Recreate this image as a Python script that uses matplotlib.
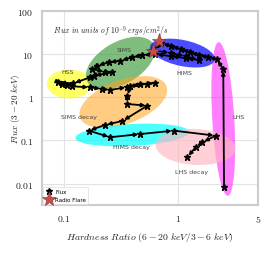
import matplotlib
matplotlib.use('Agg')
import matplotlib.pyplot as plt
from matplotlib.patches import Ellipse
from matplotlib.transforms import ScaledTranslation
from matplotlib.ticker import FixedLocator, NullLocator, FixedFormatter
from matplotlib.lines import Line2D

plt.rcParams['mathtext.fontset'] = 'cm'

# ---------------- data ----------------
hardness = [2.52, 2.48, 2.17, 1.81, 1.51, 1.26, 1.05, 0.856, 0.713,
            0.594, 0.856, 1.16, 1.51, 1.16, 0.856, 0.631, 0.485,
            0.394, 0.311, 0.245, 0.194, 0.175, 0.229, 0.263, 0.181, 0.169,
            0.12, 0.089, 0.0955, 0.106, 0.117,
            0.169, 0.215, 0.254, 0.358, 0.466, 0.537, 0.631, 0.381,
            0.358, 0.358, 0.537, 0.324, 0.229, 0.164,
            0.254, 0.466, 0.915, 2.13, 1.63, 1.42, 1.20]
flux = [0.0085, 4.5, 7.7, 8.6, 9.5, 11.2, 13.1, 15.4, 18.1,
        12.4, 10.6, 9.0, 7.3, 8.1, 9.0, 10.0, 9.5,
        8.43, 7.03, 6.46, 5.39, 4.52, 3.91, 3.79, 3.16, 2.90,
        2.1, 2.22, 2.03, 1.93, 1.80,
        1.70, 1.56, 1.48, 1.73, 2.0, 2.06, 2.14, 1.86,
        1.07, 0.70, 0.64, 0.283, 0.229, 0.169,
        0.119, 0.141, 0.169, 0.129, 0.0908, 0.0696, 0.0409]

flare_hardness = [0.675, 0.598]
flare_flux = [20.4, 12.0]

states = ['HSS', 'SIMS', 'HIMS', 'LHS', 'SIMS decay', 'HIMS decay', 'LHS decay']
state_label_x = [0.108, 0.337, 1.136, 3.39, 0.1355, 0.388, 1.296]
state_label_y = [4.06, 13.1, 3.85, 0.369, 0.369, 0.0734, 0.019]

x_ticks = [0.1, 1, 5]
x_ticklabels = ['0.1', '1', '5']
y_ticks = [0.01, 0.1, 1, 10, 100]
y_ticklabels = ['0.01', '0.1', '1', '10', '100']

# ellipse regions: centre (data), width/height (px), angle (deg), colour, alpha
ell_cx = [0.111, 0.311, 1.09, 2.48, 0.330, 0.396, 1.42]
ell_cy = [2.03, 6.22, 10.6, 0.315, 0.778, 0.134, 0.0707]
ell_w = [45, 76, 66, 154, 92, 114, 80]
ell_h = [29, 42, 26, 22, 44, 22, 36]
ell_ang = [0, 30, -12, 93.4, 20, 3, -3]
ell_col = ['#ffff00', '#3a9a3a', '#0000ff', '#ff00ff', '#ffa31a', '#00ffff', '#ffb6c1']
ell_alpha = [0.6, 0.65, 0.7, 0.5, 0.55, 0.7, 0.65]

# ---------------- figure ----------------
fig = plt.figure(figsize=(2.69, 2.55), dpi=100)
ax = fig.add_axes([42/269, 1-206/255, 216/269, 194/255])
ax.set_xscale('log')
ax.set_yscale('log')
ax.set_xlim(0.064, 5)
ax.set_ylim(0.0032, 100)

for s in ax.spines.values():
    s.set_color('#cccccc')
    s.set_linewidth(1.5)
ax.set_facecolor('white')
ax.grid(True, color='#e3e3e3', lw=0.8, zorder=0)
ax.set_axisbelow(True)

ax.xaxis.set_major_locator(FixedLocator(x_ticks))
ax.xaxis.set_major_formatter(FixedFormatter([f'${t}$' for t in x_ticklabels]))
ax.xaxis.set_minor_locator(NullLocator())
ax.yaxis.set_major_locator(FixedLocator(y_ticks))
ax.yaxis.set_major_formatter(FixedFormatter([f'${t}$' for t in y_ticklabels]))
ax.yaxis.set_minor_locator(NullLocator())
ax.tick_params(length=0, labelsize=7, colors='#222222', pad=6)

for cx, cy, w, h, a, c, al in zip(ell_cx, ell_cy, ell_w, ell_h, ell_ang, ell_col, ell_alpha):
    tr = fig.dpi_scale_trans + ScaledTranslation(cx, cy, ax.transData)
    e = Ellipse((0, 0), w/100, h/100, angle=a, transform=tr,
                facecolor=c, alpha=al, edgecolor='none', zorder=1)
    ax.add_patch(e)

for name, lx, ly in zip(states, state_label_x, state_label_y):
    ax.text(lx, ly, name, fontsize=4.5, color='#444444', ha='center', va='center', zorder=5)

for i in range(len(hardness)-1):
    ax.annotate('', xy=(hardness[i+1], flux[i+1]), xytext=(hardness[i], flux[i]),
                arrowprops=dict(arrowstyle='-|>', color='black', lw=1.3,
                                mutation_scale=5, shrinkA=0, shrinkB=1.5),
                zorder=3)
ax.plot(hardness, flux, ls='none', marker='*', color='black', ms=5, zorder=4)
ax.plot(flare_hardness, flare_flux, ls='none', marker='*', color='#c0504d',
        mec='#8b2f2f', mew=0.4, ms=11, zorder=6)

ax.text(0.05, 0.898, r'$Flux\ in\ units\ of\ 10^{-9}\ ergs/cm^2/s$', transform=ax.transAxes,
        fontsize=5.5, ha='left', va='center', color='#222222')

handles = [Line2D([], [], ls='none', marker='*', color='black', ms=4.5),
           Line2D([], [], ls='none', marker='*', color='#c0504d', mec='#8b2f2f', mew=0.4, ms=11)]
leg = ax.legend(handles, ['Flux', 'Radio Flare'], loc='lower left', fontsize=4,
                frameon=True, borderpad=0.4, handletextpad=0.3, labelspacing=0.5,
                handlelength=1.5, borderaxespad=0.15)
leg.get_frame().set_edgecolor('#dddddd')
leg.get_frame().set_linewidth(0.6)
leg.get_frame().set_boxstyle('square', pad=0)

ax.set_xlabel(r'$Hardness\ Ratio\ (6-20\ keV/3-6\ keV)$', fontsize=7, color='#222222')
ax.xaxis.set_label_coords(0.5, -(238 - 206) / 194, transform=ax.transAxes)
ax.xaxis.label.set_va('center')
ax.set_ylabel(r'$Flux\ (3-20\ keV)$', fontsize=6.5, color='#222222')
ax.yaxis.set_label_coords(-(42 - 15) / 216, 0.5, transform=ax.transAxes)
ax.yaxis.label.set_va('center')

fig.savefig('out.png', dpi=100)
